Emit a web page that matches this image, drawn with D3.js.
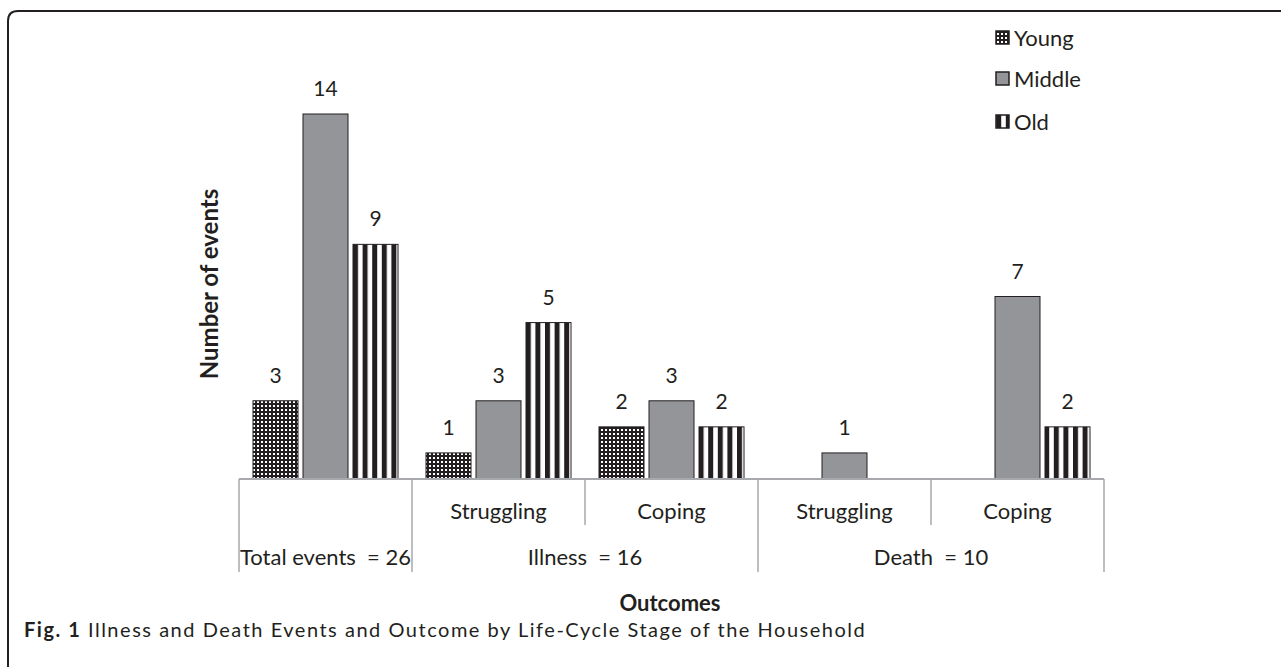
<!DOCTYPE html>
<html><head><meta charset="utf-8">
<script src="https://cdn.jsdelivr.net/npm/d3@7"></script>
<style>
html,body{margin:0;padding:0;background:#fff;}
svg{display:block;}
text{fill:#231f20;}
</style></head>
<body>
<script>
const categories = ["Total", "IllnessStruggling", "IllnessCoping", "DeathStruggling", "DeathCoping"];
const subLabels = ["", "Struggling", "Coping", "Struggling", "Coping"];
const groupLabels = ["Total events  = 26", "Illness  = 16", "Death  = 10"];
const groupSpans = [1, 2, 2];
const series = ["Young", "Middle", "Old"];
// bar heights as drawn in the picture
const young = [3, 1, 2, null, null];
const middle = [14, 3, 3, 1, 7];
const old = [9, 6, 2, null, 2];
// value labels as printed in the picture (the Illness/Struggling "Old" bar is labelled 5)
const youngLabels = ["3", "1", "2", null, null];
const middleLabels = ["14", "3", "3", "1", "7"];
const oldLabels = ["9", "5", "2", null, "2"];
const seriesValues = [young, middle, old];
const seriesLabels = [youngLabels, middleLabels, oldLabels];

const W = 1281, H = 667;
const svg = d3.select("body").append("svg").attr("width", W).attr("height", H);
const defs = svg.append("defs");

const pd = defs.append("pattern").attr("id", "dots").attr("patternUnits", "userSpaceOnUse")
  .attr("width", 4).attr("height", 4);
pd.append("rect").attr("width", 4).attr("height", 4).attr("fill", "#231f20");
pd.append("rect").attr("x", 1).attr("y", 1).attr("width", 2).attr("height", 2).attr("fill", "#ffffff");

const ps = defs.append("pattern").attr("id", "stripes").attr("patternUnits", "userSpaceOnUse")
  .attr("width", 9.6).attr("height", 10).attr("x", 353);
ps.append("rect").attr("width", 9.6).attr("height", 10).attr("fill", "#ffffff");
ps.append("rect").attr("width", 5).attr("height", 10).attr("fill", "#231f20");

const fills = {Young: "url(#dots)", Middle: "#939598", Old: "url(#stripes)"};

svg.append("path")
  .attr("d", "M8,667 L8,21 Q8,11 18,11 L1281,11")
  .attr("fill", "none").attr("stroke", "#231f20").attr("stroke-width", 2);

const x0 = d3.scaleBand().domain(categories).range([239, 1104]).padding(0);
const x1 = d3.scaleBand().domain(series).range([0, x0.bandwidth()]).paddingInner(0.1).paddingOuter(0.28);
const y = d3.scaleLinear().domain([0, 14]).range([479, 114]);

const font = "Lato, 'Open Sans', sans-serif";

series.forEach((s, si) => {
  const vals = seriesValues[si];
  const g = svg.append("g");
  categories.forEach((c, ci) => {
    const v = vals[ci];
    if (v == null) return;
    const bx = x0(c) + x1(s);
    g.append("rect")
      .attr("x", bx).attr("y", y(v))
      .attr("width", x1.bandwidth()).attr("height", y(0) - y(v))
      .attr("fill", fills[s]).attr("stroke", "#231f20").attr("stroke-width", 1);
    svg.append("text")
      .attr("x", bx + x1.bandwidth() / 2).attr("y", y(v) - 18)
      .attr("text-anchor", "middle")
      .style("font-family", font).style("font-size", "21px")
      .text(seriesLabels[si][ci]);
  });
});

const axisColor = "#a7a9ac";
svg.append("line").attr("x1", 239).attr("x2", 1104).attr("y1", y(0)).attr("y2", y(0))
  .attr("stroke", axisColor).attr("stroke-width", 2);

let bounds = [0];
groupSpans.reduce((acc, s) => { bounds.push(acc + s); return acc + s; }, 0);
categories.concat(["end"]).forEach((c, i) => {
  const xp = i < categories.length ? x0(c) : x0.range()[1];
  const major = bounds.includes(i);
  svg.append("line").attr("x1", xp).attr("x2", xp)
    .attr("y1", y(0)).attr("y2", major ? 572 : 525)
    .attr("stroke", axisColor).attr("stroke-width", 1.5);
});

categories.forEach((c, i) => {
  svg.append("text").attr("x", x0(c) + x0.bandwidth() / 2).attr("y", 519)
    .attr("text-anchor", "middle").style("font-family", font).style("font-size", "22px")
    .text(subLabels[i]);
});
groupLabels.forEach((lab, gi) => {
  const a = x0(categories[bounds[gi]]);
  const b = bounds[gi + 1] < categories.length ? x0(categories[bounds[gi + 1]]) : x0.range()[1];
  svg.append("text").attr("x", (a + b) / 2).attr("y", 565)
    .attr("text-anchor", "middle").style("font-family", font).style("font-size", "22px")
    .style("white-space", "pre").attr("xml:space", "preserve")
    .text(lab);
});

svg.append("text").attr("transform", "translate(218,284) rotate(-90)")
  .attr("text-anchor", "middle").style("font-family", font).style("font-size", "24px")
  .style("font-weight", "bold").text("Number of events");
svg.append("text").attr("x", 670).attr("y", 611)
  .attr("text-anchor", "middle").style("font-family", font).style("font-size", "22px")
  .style("font-weight", "bold").text("Outcomes");

const legY = [38, 79, 122];
series.forEach((s, i) => {
  svg.append("rect").attr("x", 996).attr("y", legY[i] - 7).attr("width", 13).attr("height", 13)
    .attr("fill", fills[s]).attr("stroke", "#231f20").attr("stroke-width", 1.5);
  svg.append("text").attr("x", 1014).attr("y", legY[i] + 8)
    .style("font-family", font).style("font-size", "22px").text(s);
});

const cap = svg.append("text").attr("x", 24).attr("y", 637)
  .style("font-family", "Lato, 'Open Sans', sans-serif").style("font-size", "20px");
cap.append("tspan").style("font-weight", "bold").text("Fig. 1");
cap.append("tspan").text(" Illness and Death Events and Outcome by Life-Cycle Stage of the Household");
// spread the caption to the reference span (24 → 866)
const len = cap.node().getComputedTextLength();
const nChars = cap.text().length;
if (len > 0 && len < 842) cap.style("letter-spacing", ((842 - len) / nChars).toFixed(2) + "px");
</script>
</body></html>
